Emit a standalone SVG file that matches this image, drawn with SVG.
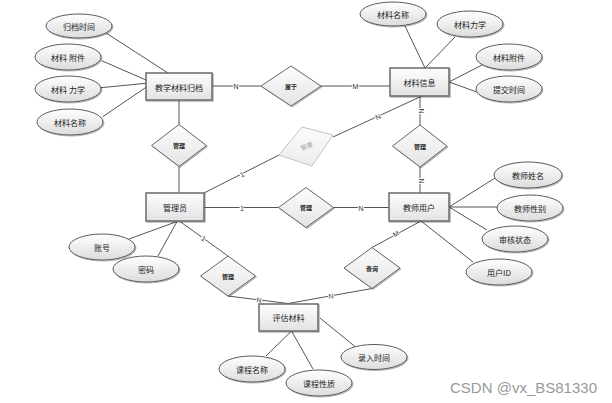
<svg xmlns="http://www.w3.org/2000/svg" width="612" height="403" viewBox="0 0 612 403">
<defs>
<linearGradient id="gRect" x1="0" y1="0" x2="0" y2="1"><stop offset="0" stop-color="#fefefe"/><stop offset="1" stop-color="#e2e2e2"/></linearGradient>
<linearGradient id="gEll" x1="0" y1="0" x2="0" y2="1"><stop offset="0" stop-color="#ffffff"/><stop offset="1" stop-color="#dcdcdc"/></linearGradient>
<linearGradient id="gDia" x1="0" y1="0" x2="0" y2="1"><stop offset="0" stop-color="#fdfdfd"/><stop offset="1" stop-color="#e4e4e4"/></linearGradient>
<linearGradient id="gGray" x1="0" y1="0" x2="0" y2="1"><stop offset="0" stop-color="#fbfbfb"/><stop offset="1" stop-color="#ececec"/></linearGradient>
<filter id="sh" x="-20%" y="-20%" width="140%" height="140%"><feDropShadow dx="1" dy="1" stdDeviation="0.7" flood-color="#000" flood-opacity="0.3"/></filter>
</defs>
<style>
.ent rect{fill:url(#gRect);stroke:#6a6a6a;stroke-width:1.5;filter:url(#sh)}
.att ellipse{fill:url(#gEll);stroke:#5a5a5a;stroke-width:1;filter:url(#sh)}
.rel polygon{fill:url(#gDia);stroke:#666;stroke-width:1;filter:url(#sh)}
text{font-family:"Noto Sans CJK SC","Liberation Sans",sans-serif;fill:#222;text-anchor:middle;dominant-baseline:central}
.t8{font-size:8px}
.t6{font-size:6px;font-weight:bold}
#conn line{stroke:#555;stroke-width:1}
.lbl{font-family:"Liberation Sans",sans-serif;font-size:7px;fill:#333;stroke:#fff;stroke-width:2;paint-order:stroke}
</style>
<rect width="612" height="403" fill="#fff"/>
<g id="conn">
<line x1="106" y1="33" x2="168" y2="73"/>
<line x1="101.7" y1="60.7" x2="146" y2="80"/>
<line x1="100.7" y1="87.7" x2="146" y2="83.3"/>
<line x1="102.7" y1="116.7" x2="146" y2="87.3"/>
<line x1="212" y1="86" x2="261" y2="86"/>
<line x1="321" y1="86" x2="390" y2="86"/>
<line x1="405" y1="26" x2="425" y2="68"/>
<line x1="455" y1="37" x2="425" y2="68"/>
<line x1="482" y1="65" x2="449" y2="82"/>
<line x1="477" y1="92" x2="449" y2="82"/>
<line x1="179" y1="100" x2="179" y2="124.5"/>
<line x1="179" y1="166.5" x2="179" y2="193"/>
<line x1="420" y1="96" x2="420" y2="125"/>
<line x1="420" y1="167" x2="420" y2="193"/>
<line x1="204" y1="207.5" x2="278.5" y2="207.5"/>
<line x1="333.5" y1="207.5" x2="389" y2="207.5"/>
<line x1="204" y1="193" x2="279" y2="155"/>
<line x1="333" y1="137" x2="422" y2="96"/>
<line x1="177" y1="221.5" x2="129" y2="239"/>
<line x1="177" y1="221.5" x2="158" y2="256"/>
<line x1="180" y1="221.5" x2="228" y2="256"/>
<line x1="228" y1="296" x2="288" y2="303.5"/>
<line x1="372" y1="288.5" x2="288" y2="303.5"/>
<line x1="372" y1="247.5" x2="421" y2="221"/>
<line x1="449" y1="207" x2="495" y2="178"/>
<line x1="449" y1="207" x2="497" y2="207"/>
<line x1="449" y1="207" x2="487" y2="230"/>
<line x1="421" y1="221" x2="473" y2="262"/>
<line x1="291.5" y1="331" x2="266" y2="356"/>
<line x1="291.5" y1="331" x2="313" y2="369"/>
<line x1="320" y1="318" x2="358" y2="349"/>
<text class="lbl" x="236" y="86">N</text>
<text class="lbl" x="355.5" y="86">M</text>
<text class="lbl" transform="translate(421.5,111) rotate(90)">N</text>
<text class="lbl" transform="translate(421.5,181) rotate(90)">N</text>
<text class="lbl" x="242" y="208">1</text>
<text class="lbl" x="361" y="208">N</text>
<text class="lbl" transform="translate(242,174.5) rotate(-27)">1</text>
<text class="lbl" transform="translate(378,117) rotate(-25)">N</text>
<text class="lbl" transform="translate(203.5,238.5) rotate(35)">1</text>
<text class="lbl" transform="translate(259,300) rotate(7)">N</text>
<text class="lbl" transform="translate(331,296) rotate(-10)">N</text>
<text class="lbl" transform="translate(396,234) rotate(-28)">M</text>
</g>
<g id="e_archive" class="ent"><rect x="146" y="73" width="66" height="27"/><text class="t8" x="179" y="87">教学材料归档</text></g>
<g id="e_info" class="ent"><rect x="390" y="68" width="59" height="28"/><text class="t8" x="419.5" y="82">材料信息</text></g>
<g id="e_admin" class="ent"><rect x="146" y="193" width="58" height="28"/><text class="t8" x="175" y="207">管理员</text></g>
<g id="e_teacher" class="ent"><rect x="389" y="193" width="60" height="28"/><text class="t8" x="419" y="207">教师用户</text></g>
<g id="e_eval" class="ent"><rect x="259" y="304" width="59" height="27"/><text class="t8" x="288.5" y="317.5">评估材料</text></g>
<g id="a_gdsj" class="att"><ellipse cx="79" cy="26" rx="33" ry="12"/><text class="t8" x="79" y="26">归档时间</text></g>
<g id="a_clfj1" class="att"><ellipse cx="68" cy="57" rx="33" ry="13"/><text class="t8" x="68" y="57">材料 附件</text></g>
<g id="a_clls1" class="att"><ellipse cx="68" cy="89" rx="33" ry="13"/><text class="t8" x="68" y="89">材料 力学</text></g>
<g id="a_clmc1" class="att"><ellipse cx="70" cy="122" rx="33" ry="13"/><text class="t8" x="70" y="122">材料名称</text></g>
<g id="a_clmc2" class="att"><ellipse cx="393" cy="14" rx="33" ry="12"/><text class="t8" x="393" y="14">材料名称</text></g>
<g id="a_clls2" class="att"><ellipse cx="470" cy="24" rx="33" ry="13"/><text class="t8" x="470" y="24">材料力学</text></g>
<g id="a_clfj2" class="att"><ellipse cx="509" cy="57" rx="33" ry="13"/><text class="t8" x="509" y="57">材料附件</text></g>
<g id="a_tjsj" class="att"><ellipse cx="509" cy="89" rx="33" ry="13"/><text class="t8" x="509" y="89">提交时间</text></g>
<g id="a_jsxm" class="att"><ellipse cx="528" cy="175" rx="34" ry="13"/><text class="t8" x="528" y="175">教师姓名</text></g>
<g id="a_jsxb" class="att"><ellipse cx="530" cy="208" rx="33" ry="13"/><text class="t8" x="530" y="208">教师性别</text></g>
<g id="a_shzt" class="att"><ellipse cx="515" cy="239" rx="33" ry="13"/><text class="t8" x="515" y="239">审核状态</text></g>
<g id="a_yhid" class="att"><ellipse cx="499" cy="272" rx="33" ry="13"/><text class="t8" x="499" y="272">用户ID</text></g>
<g id="a_zh" class="att"><ellipse cx="102" cy="247" rx="33" ry="13"/><text class="t8" x="102" y="247">账号</text></g>
<g id="a_mm" class="att"><ellipse cx="146" cy="269" rx="33" ry="13"/><text class="t8" x="146" y="269">密码</text></g>
<g id="a_kcmc" class="att"><ellipse cx="252" cy="369" rx="33" ry="13"/><text class="t8" x="252" y="369">课程名称</text></g>
<g id="a_kcxz" class="att"><ellipse cx="319" cy="383" rx="33" ry="13"/><text class="t8" x="319" y="383">课程性质</text></g>
<g id="a_lrsj" class="att"><ellipse cx="374" cy="357" rx="33" ry="12.5"/><text class="t8" x="374" y="357">录入时间</text></g>
<g id="r_belong" class="rel"><polygon points="291,66 321,86 291,106 261,86"/><text class="t6" x="291" y="86">属于</text></g>
<g id="r_m1" class="rel"><polygon points="179,124.5 206.5,145.5 179,166.5 151.5,145.5"/><text class="t6" x="179" y="145.5">管理</text></g>
<g id="r_m2" class="rel"><polygon points="420,125 447,146 420,167 392.5,146"/><text class="t6" x="420" y="146">管理</text></g>
<g id="r_m3" class="rel"><polygon points="306,187.5 333.5,207.5 306,227.5 278.5,207.5"/><text class="t6" x="306" y="207.5">管理</text></g>
<g id="r_query" class="rel"><polygon points="372,247.5 400,268 372,288.5 344,268"/><text class="t6" x="372" y="268">查询</text></g>
<g id="r_m4" class="rel"><polygon points="228,256 255.5,276 228,296 200.5,276"/><text class="t6" x="228" y="276">管理</text></g>
<g id="r_gray"><polygon points="302,127 333,135 312,166 279,155" fill="url(#gGray)" stroke="#c4c4c4" stroke-width="1"/><text transform="translate(306.5,146) rotate(-22)" style="font-size:6px;fill:#999">管理</text></g>
<text x="597" y="393" style="font-family:'Liberation Sans',sans-serif;font-size:15px;fill:#999;text-anchor:end;dominant-baseline:auto">CSDN @vx_BS81330</text>
</svg>
